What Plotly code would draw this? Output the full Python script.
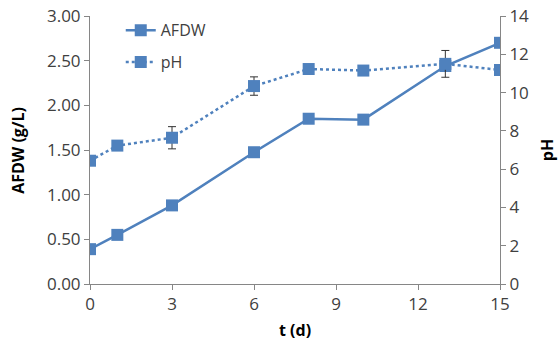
import plotly.graph_objects as go

t_days = [0, 1, 3, 6, 8, 10, 13, 15]
afdw = [0.39, 0.55, 0.88, 1.475, 1.85, 1.84, 2.44, 2.70]
ph = [6.44, 7.23, 7.64, 10.34, 11.23, 11.15, 11.50, 11.18]
ph_err = [0, 0, 0.58, 0.48, 0, 0, 0.70, 0]

color = "#4F81BD"
font_family = "Open Sans"

fig = go.Figure()
fig.add_trace(go.Scatter(
    x=t_days, y=afdw, name="AFDW", mode="lines+markers", legendgroup="a",
    line=dict(color=color, width=2.5),
    marker=dict(symbol="square", size=12, color=color),
))
fig.add_trace(go.Scatter(
    x=t_days, y=ph, name="pH", mode="lines+markers", yaxis="y2", legendgroup="b",
    line=dict(color=color, width=2.5, dash="dot"),
    marker=dict(symbol="square", size=12, color=color),
    error_y=dict(type="data", array=ph_err, visible=True, color="#333333", thickness=1, width=4),
))

axis_common = dict(
    showgrid=False, zeroline=False, showline=True, linecolor="#868686", linewidth=1,
    ticks="outside", ticklen=5, tickcolor="#868686", automargin=False,
    tickfont=dict(family=font_family, size=17, color="#404040"),
)

title_font = dict(family=font_family, size=16, color="black")

fig.update_layout(
    width=559, height=343,
    margin=dict(l=90, r=59, t=16, b=59),
    paper_bgcolor="white", plot_bgcolor="white",
    showlegend=True,
    legend=dict(x=0.075, y=1.01, xanchor="left", yanchor="top",
                font=dict(family=font_family, size=16, color="#404040"),
                bgcolor="rgba(0,0,0,0)", tracegroupgap=8),
    xaxis=dict(range=[0, 15], tickvals=[0, 3, 6, 9, 12, 15], **axis_common),
    yaxis=dict(range=[0, 3], tickvals=[0, 0.5, 1, 1.5, 2, 2.5, 3], tickformat=".2f", **axis_common),
    yaxis2=dict(range=[0, 14], tickvals=[0, 2, 4, 6, 8, 10, 12, 14], overlaying="y", side="right",
                **axis_common),
    annotations=[
        dict(text="<b>t (d)</b>", xref="paper", yref="paper", x=0.5, y=-0.172, yanchor="middle",
             xanchor="center", showarrow=False, font=title_font),
        dict(text="<b>AFDW (g/L)</b>", xref="paper", yref="paper", x=-0.176, y=0.5, xanchor="center",
             yanchor="middle", textangle=-90, showarrow=False, font=title_font),
        dict(text="<b>pH</b>", xref="paper", yref="paper", x=1.115, y=0.5, xanchor="center",
             yanchor="middle", textangle=-90, showarrow=False, font=title_font),
    ],
)

fig.write_html("out.html", config={"displayModeBar": False},
               post_script="document.body.style.margin='0';")
